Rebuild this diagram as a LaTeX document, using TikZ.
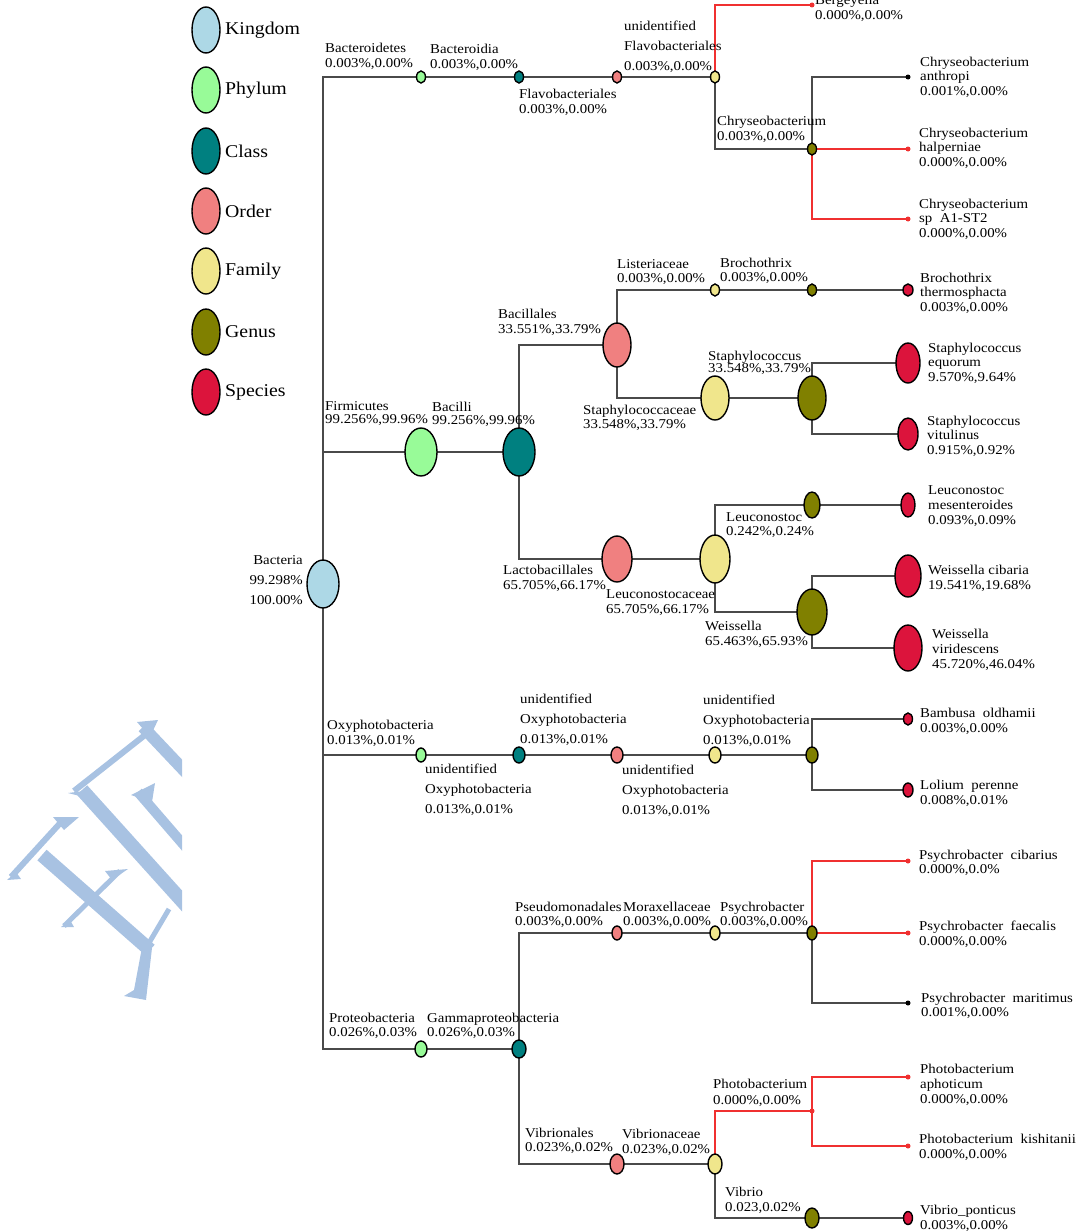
\documentclass[tikz,border=0pt]{standalone}
\usepackage{fontspec}
\setmainfont{Liberation Serif}[FakeStretch=1.1]
\usetikzlibrary{shapes.geometric}
\pgfdeclarelayer{bg}
\pgfsetlayers{bg,main}
\definecolor{ckingdom}{HTML}{ADD8E6}
\definecolor{cphylum}{HTML}{98FB98}
\definecolor{cclass}{HTML}{008080}
\definecolor{corder}{HTML}{F08080}
\definecolor{cfamily}{HTML}{F0E68C}
\definecolor{cgenus}{HTML}{808000}
\definecolor{cspecies}{HTML}{DC143C}
\definecolor{cline}{HTML}{4A4A4A}
\definecolor{cred}{HTML}{F03030}
\definecolor{cwm}{HTML}{A8C2E2}
\tikzset{
  rk/.style={ellipse, draw=black, line width=1.4pt, inner sep=0pt},
  sz/.style 2 args={minimum width=2*#1, minimum height=2*#2},
  kingdom/.style={rk, fill=ckingdom},
  phylum/.style={rk, fill=cphylum},
  class/.style={rk, fill=cclass},
  order/.style={rk, fill=corder},
  family/.style={rk, fill=cfamily},
  genus/.style={rk, fill=cgenus},
  species/.style={rk, fill=cspecies},
  rdot/.style={circle, fill=cred, inner sep=0pt, minimum size=5pt},
  kdot/.style={circle, fill=black, inner sep=0pt, minimum size=5pt},
  lab/.style={anchor=north west, inner sep=0pt, align=left, yshift=4.5pt, font=\fontsize{13.5}{#1}\selectfont},
  lab/.default=14.5,
  leg/.style={anchor=west, inner sep=0pt, font=\fontsize{18}{20}\selectfont},
  con/.style={draw=cline, line width=1.3pt},
  rcon/.style={draw=cred, line width=1.3pt},
  wm/.style={draw=cwm, line cap=butt},
}
\begin{document}
\begin{tikzpicture}[x=1pt,y=-1pt]
\useasboundingbox (0,0) rectangle (1076,1231);
% watermark
\begin{scope}
\clip (0,700) rectangle (182,1010);
\draw[wm, line width=12pt] (143,727) -- (195,782);
\fill[cwm] (137,722) -- (158,720) -- (150,737) -- cycle;
\draw[wm, line width=6pt] (145,735) -- (74,791);
\fill[cwm] (68,793) -- (92,790) -- (84,797) -- cycle;
\draw[wm, line width=14pt] (82,790) -- (192,912);
\draw[wm, line width=10pt] (138,792) -- (195,858);
\fill[cwm] (131,795) -- (155,783) -- (152,802) -- cycle;
\draw[wm, line width=6pt] (63,820) -- (11,877);
\fill[cwm] (53,817) -- (79,817) -- (64,830) -- cycle;
\fill[cwm] (7,880) -- (21,879) -- (16,872) -- cycle;
\draw[wm, line width=14pt] (42,855) -- (150,950);
\draw[wm, line width=5pt] (120,871) -- (64,926);
\fill[cwm] (105,871) -- (128,869) -- (112,880) -- cycle;
\fill[cwm] (61,927) -- (74,927) -- (70,920) -- cycle;
\fill[cwm] (143,942) -- (152,948) -- (146,1000) -- (124,996) -- (134,990) -- cycle;
\draw[wm, line width=5pt] (146,948) -- (169,909);
\end{scope}
% legend
\node[kingdom, sz={14}{23}] (lk) at (206,30) {};
\node[phylum, sz={14}{23}] (lp) at (206,90) {};
\node[class, sz={14}{23}] (lc) at (206,151) {};
\node[order, sz={14}{23}] (lo) at (206,211) {};
\node[family, sz={14}{23}] (lf) at (206,271) {};
\node[genus, sz={14}{23}] (lg) at (206,332) {};
\node[species, sz={14}{23}] (ls) at (206,392) {};
\node[leg] (tk) at (225,30) {Kingdom};
\node[leg] (tp) at (225,90) {Phylum};
\node[leg] (tc) at (225,151) {Class};
\node[leg] (to) at (225,211) {Order};
\node[leg] (tf) at (225,271) {Family};
\node[leg] (tg) at (225,332) {Genus};
\node[leg] (ts) at (225,392) {Species};
% root
\node[kingdom, sz={16}{24}] (bact) at (323,584) {};
\node[anchor=north east, inner sep=0pt, align=right, yshift=4.5pt, font=\fontsize{13.5}{20}\selectfont] (tbact) at (303,560) {Bacteria\\99.298\%\\100.00\%};
% Bacteroidetes branch
\node[phylum, sz={4.5}{6}] (bph) at (421,77) {};
\node[class, sz={4.5}{6}] (bcl) at (519,77) {};
\node[order, sz={4.5}{6}] (bor) at (617,77) {};
\node[family, sz={4.5}{6}] (bfa) at (715,77) {};
\node[rdot] (berg) at (812,5) {};
\node[genus, sz={4.5}{6}] (cgen) at (812,149) {};
\node[kdot] (canth) at (908,77) {};
\node[rdot] (chalp) at (908,149) {};
\node[rdot] (csp) at (908,219) {};
% Firmicutes branch
\node[phylum, sz={16}{24}] (fph) at (421,452) {};
\node[class, sz={16}{24}] (fcl) at (519,452) {};
\node[order, sz={14}{22}] (bacor) at (617,345) {};
\node[family, sz={4.5}{6}] (lisfa) at (715,290) {};
\node[genus, sz={4.5}{6}] (brogen) at (812,290) {};
\node[species, sz={5}{6}] (brosp) at (908,290) {};
\node[family, sz={14}{22}] (stafa) at (715,398) {};
\node[genus, sz={14}{22}] (stagen) at (812,398) {};
\node[species, sz={12}{20}] (staeq) at (908,363) {};
\node[species, sz={10}{16}] (stavi) at (908,434) {};
\node[order, sz={15}{23}] (lacor) at (617,559) {};
\node[family, sz={15}{24}] (leufa) at (715,559) {};
\node[genus, sz={8}{13}] (leugen) at (812,505) {};
\node[species, sz={7}{12}] (leusp) at (908,505) {};
\node[genus, sz={15}{23}] (weigen) at (812,612) {};
\node[species, sz={13}{21}] (weici) at (908,576) {};
\node[species, sz={14}{23}] (weivi) at (908,648) {};
% Oxyphotobacteria branch
\node[phylum, sz={5}{7}] (oph) at (421,755) {};
\node[class, sz={6}{8}] (ocl) at (519,755) {};
\node[order, sz={6}{8}] (oor) at (617,755) {};
\node[family, sz={6}{8}] (ofa) at (715,755) {};
\node[genus, sz={6}{8}] (ogen) at (812,755) {};
\node[species, sz={4.5}{6}] (bamb) at (908,719) {};
\node[species, sz={5}{7}] (lol) at (908,790) {};
% Proteobacteria branch
\node[phylum, sz={6}{8}] (pph) at (421,1049) {};
\node[class, sz={7}{9}] (pcl) at (519,1049) {};
\node[order, sz={5}{7}] (psor) at (617,933) {};
\node[family, sz={5}{7}] (psfa) at (715,933) {};
\node[genus, sz={5}{7}] (psgen) at (812,933) {};
\node[rdot] (pscib) at (908,861) {};
\node[rdot] (psfae) at (908,933) {};
\node[kdot] (psmar) at (908,1003) {};
\node[order, sz={7}{10}] (vor) at (617,1164) {};
\node[family, sz={7}{10}] (vfa) at (715,1164) {};
\node[rdot] (phdot) at (812,1111) {};
\node[rdot] (phaph) at (908,1077) {};
\node[rdot] (phkis) at (908,1146) {};
\node[genus, sz={7}{10}] (vgen) at (812,1218) {};
\node[species, sz={4.5}{6.5}] (vpon) at (908,1218) {};
% connectors
\begin{pgfonlayer}{bg}
\path[con] (bact.center) |- (bph.center) -- (bcl.center) -- (bor.center) -- (bfa.center);
\path[rcon] (bfa.center) |- (berg.center);
\path[con] (bfa.center) |- (cgen.center);
\path[con] (cgen.center) |- (canth.center);
\path[rcon] (cgen.center) -- (chalp.center);
\path[rcon] (cgen.center) |- (csp.center);
\path[con] (bact.center) |- (fph.center) -- (fcl.center);
\path[con] (fcl.center) |- (bacor.center);
\path[con] (fcl.center) |- (lacor.center);
\path[con] (bacor.center) |- (lisfa.center) -- (brogen.center) -- (brosp.center);
\path[con] (bacor.center) |- (stafa.center) -- (stagen.center);
\path[con] (stagen.center) |- (staeq.center);
\path[con] (stagen.center) |- (stavi.center);
\path[con] (lacor.center) -- (leufa.center);
\path[con] (leufa.center) |- (leugen.center) -- (leusp.center);
\path[con] (leufa.center) |- (weigen.center);
\path[con] (weigen.center) |- (weici.center);
\path[con] (weigen.center) |- (weivi.center);
\path[con] (bact.center) |- (oph.center) -- (ocl.center) -- (oor.center) -- (ofa.center) -- (ogen.center);
\path[con] (ogen.center) |- (bamb.center);
\path[con] (ogen.center) |- (lol.center);
\path[con] (bact.center) |- (pph.center) -- (pcl.center);
\path[con] (pcl.center) |- (psor.center) -- (psfa.center) -- (psgen.center);
\path[rcon] (psgen.center) |- (pscib.center);
\path[rcon] (psgen.center) -- (psfae.center);
\path[con] (psgen.center) |- (psmar.center);
\path[con] (pcl.center) |- (vor.center) -- (vfa.center);
\path[rcon] (vfa.center) |- (phdot.center);
\path[rcon] (phdot.center) |- (phaph.center);
\path[rcon] (phdot.center) |- (phkis.center);
\path[con] (vfa.center) |- (vgen.center) -- (vpon.center);
\end{pgfonlayer}
% labels
\node[lab=15] (t1) at (325,47) {Bacteroidetes\\0.003\%,0.00\%};
\node[lab=15] (t2) at (430,48) {Bacteroidia\\0.003\%,0.00\%};
\node[lab=15] (t3) at (519,93) {Flavobacteriales\\0.003\%,0.00\%};
\node[lab=20] (t4) at (624,25) {unidentified\\Flavobacteriales\\0.003\%,0.00\%};
\node[lab=15] (t5) at (815,-1) {Bergeyella\\0.000\%,0.00\%};
\node[lab=15] (t6) at (717,120) {Chryseobacterium\\0.003\%,0.00\%};
\node[lab] (t7) at (920,61) {Chryseobacterium\\anthropi\\0.001\%,0.00\%};
\node[lab] (t8) at (919,132) {Chryseobacterium\\halperniae\\0.000\%,0.00\%};
\node[lab] (t9) at (919,203) {Chryseobacterium\\sp\ \ A1-ST2\\0.000\%,0.00\%};
\node[lab=13] (t10) at (325,406) {Firmicutes\\99.256\%,99.96\%};
\node[lab=13] (t11) at (432,406) {Bacilli\\99.256\%,99.96\%};
\node[lab=15] (t12) at (498,313) {Bacillales\\33.551\%,33.79\%};
\node[lab=14] (t13) at (617,264) {Listeriaceae\\0.003\%,0.00\%};
\node[lab=14] (t14) at (720,262) {Brochothrix\\0.003\%,0.00\%};
\node[lab] (t15) at (920,277) {Brochothrix\\thermosphacta\\0.003\%,0.00\%};
\node[lab] (t16) at (583,409) {Staphylococcaceae\\33.548\%,33.79\%};
\node[lab=12] (t17) at (708,355) {Staphylococcus\\33.548\%,33.79\%};
\node[lab] (t18) at (928,347) {Staphylococcus\\equorum\\9.570\%,9.64\%};
\node[lab] (t19) at (927,420) {Staphylococcus\\vitulinus\\0.915\%,0.92\%};
\node[lab=15] (t20) at (503,569) {Lactobacillales\\65.705\%,66.17\%};
\node[lab] (t21) at (606,594) {Leuconostocaceae\\65.705\%,66.17\%};
\node[lab=14] (t22) at (726,517) {Leuconostoc\\0.242\%,0.24\%};
\node[lab=15] (t23) at (928,490) {Leuconostoc\\mesenteroides\\0.093\%,0.09\%};
\node[lab=15] (t24) at (705,625) {Weissella\\65.463\%,65.93\%};
\node[lab=15] (t25) at (928,569) {Weissella cibaria\\19.541\%,19.68\%};
\node[lab=15] (t26) at (932,633) {Weissella\\viridescens\\45.720\%,46.04\%};
\node[lab=15] (t27) at (327,724) {Oxyphotobacteria\\0.013\%,0.01\%};
\node[lab=20] (t28) at (425,768) {unidentified\\Oxyphotobacteria\\0.013\%,0.01\%};
\node[lab=20] (t29) at (520,698) {unidentified\\Oxyphotobacteria\\0.013\%,0.01\%};
\node[lab=20] (t30) at (622,769) {unidentified\\Oxyphotobacteria\\0.013\%,0.01\%};
\node[lab=20] (t31) at (703,699) {unidentified\\Oxyphotobacteria\\0.013\%,0.01\%};
\node[lab=15] (t32) at (920,712) {Bambusa\ \ oldhamii\\0.003\%,0.00\%};
\node[lab=15] (t33) at (920,784) {Lolium\ \ perenne\\0.008\%,0.01\%};
\node[lab=14] (t34) at (329,1017) {Proteobacteria\\0.026\%,0.03\%};
\node[lab=14] (t35) at (427,1017) {Gammaproteobacteria\\0.026\%,0.03\%};
\node[lab=14] (t36) at (515,906) {Pseudomonadales\\0.003\%,0.00\%};
\node[lab=14] (t37) at (623,906) {Moraxellaceae\\0.003\%,0.00\%};
\node[lab=14] (t38) at (720,906) {Psychrobacter\\0.003\%,0.00\%};
\node[lab=14] (t39) at (919,854) {Psychrobacter\ \ cibarius\\0.000\%,0.0\%};
\node[lab=15] (t40) at (919,925) {Psychrobacter\ \ faecalis\\0.000\%,0.00\%};
\node[lab=14] (t41) at (921,997) {Psychrobacter\ \ maritimus\\0.001\%,0.00\%};
\node[lab=14] (t42) at (525,1132) {Vibrionales\\0.023\%,0.02\%};
\node[lab=15] (t43) at (622,1133) {Vibrionaceae\\0.023\%,0.02\%};
\node[lab=16] (t44) at (713,1083) {Photobacterium\\0.000\%,0.00\%};
\node[lab=15] (t45) at (920,1068) {Photobacterium\\aphoticum\\0.000\%,0.00\%};
\node[lab=15] (t46) at (919,1138) {Photobacterium\ \ kishitanii\\0.000\%,0.00\%};
\node[lab=15] (t47) at (725,1191) {Vibrio\\0.023,0.02\%};
\node[lab=15] (t48) at (920,1209) {Vibrio\_ponticus\\0.003\%,0.00\%};
\end{tikzpicture}
\end{document}
